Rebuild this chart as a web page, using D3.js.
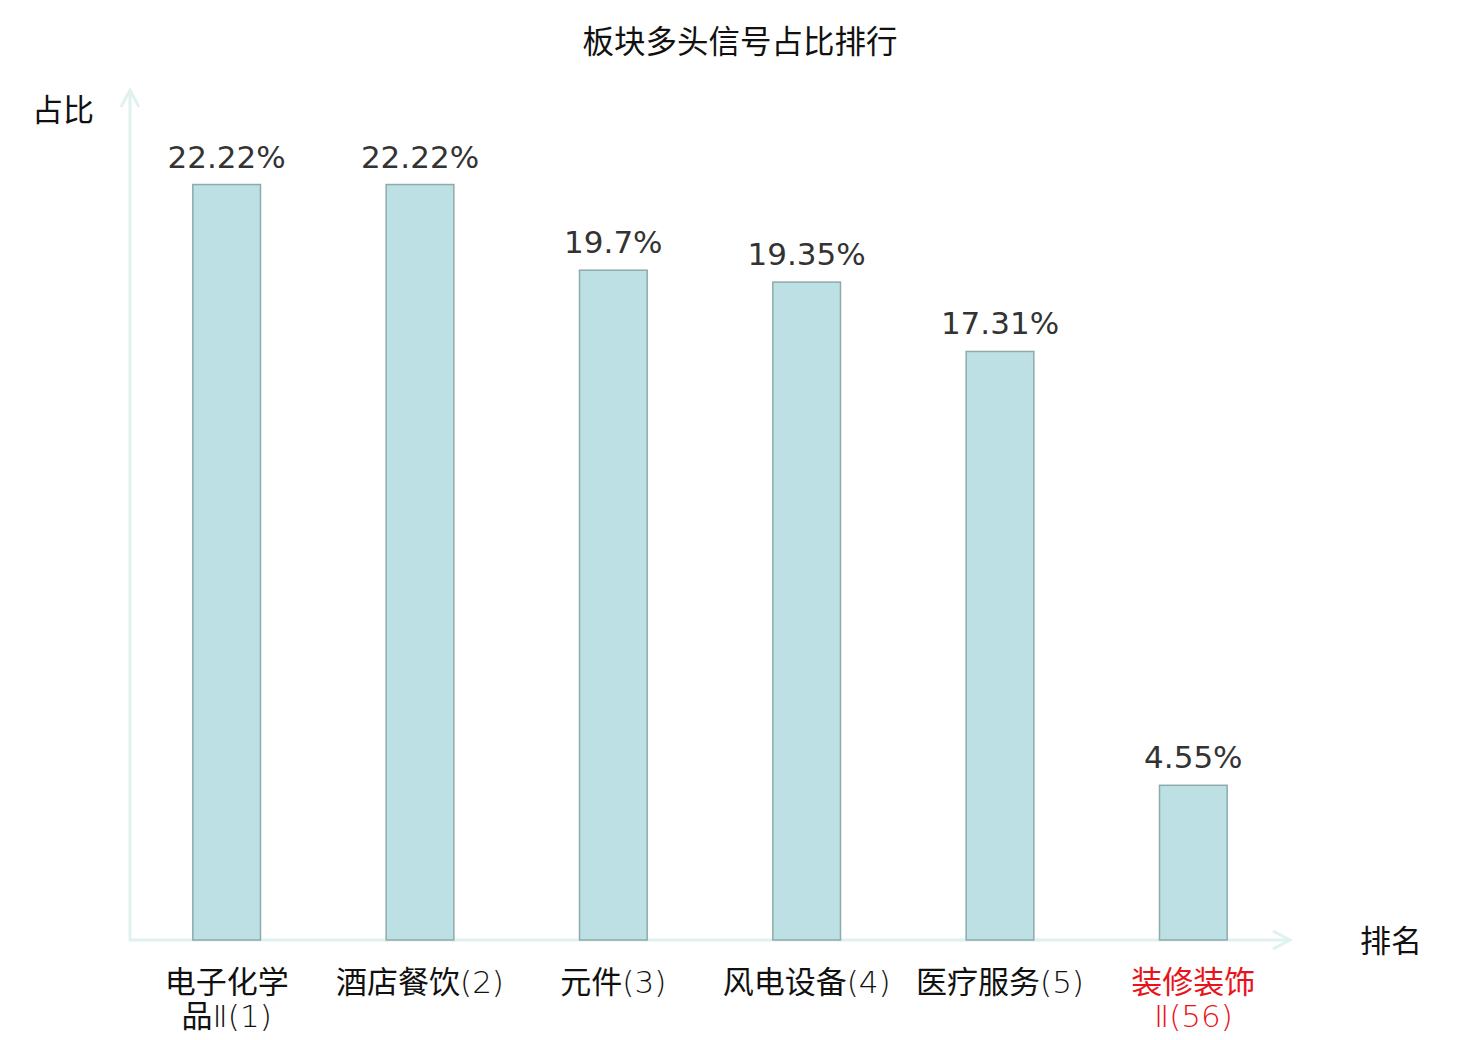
<!DOCTYPE html>
<html>
<head>
<meta charset="utf-8">
<script src="https://cdn.jsdelivr.net/npm/d3@7"></script>
<style>
  body { margin: 0; background: #fff; }
  text { font-family: "DejaVu Sans", "Noto Sans CJK SC", sans-serif; }
</style>
</head>
<body>
<div id="chart"></div>
<script>
// data
let names = ['电子化学品Ⅱ', '酒店餐饮', '元件', '风电设备', '医疗服务', '装修装饰Ⅱ']
let ranks = [1, 2, 3, 4, 5, 56]
let shares = [22.22, 22.22, 19.7, 19.35, 17.31, 4.55]
let highlight = [false, false, false, false, false, true]

let width = 1480
let height = 1040

let svg = d3
  .select('#chart')
  .append('svg')
  .attr('width', width)
  .attr('height', height)

let x0 = 130
let x1 = 1290
let yBase = 940

let xScale = d3
  .scaleBand()
  .domain(names)
  .range([x0, x1])
  .paddingInner(0.65)
  .paddingOuter(0.325)

let yScale = d3.scaleLinear().domain([0, 25]).range([yBase, 90])

// title
svg
  .append('text')
  .attr('x', 740)
  .attr('y', 53)
  .attr('text-anchor', 'middle')
  .attr('font-size', 31.5)
  .attr('fill', '#111')
  .text('板块多头信号占比排行')

// axes
let axisColor = '#dff2ef'
svg
  .append('line')
  .attr('x1', x0)
  .attr('x2', x0)
  .attr('y1', yBase + 1.5)
  .attr('y2', yScale(25))
  .attr('stroke', axisColor)
  .attr('stroke-width', 3)
svg
  .append('path')
  .attr('d', `M${x0 - 9},${yScale(25) + 17}L${x0},${yScale(25)}L${x0 + 9},${yScale(25) + 17}`)
  .attr('stroke', axisColor)
  .attr('stroke-width', 3)
  .attr('fill', 'none')

svg
  .append('line')
  .attr('x1', x0)
  .attr('x2', x1)
  .attr('y1', yBase)
  .attr('y2', yBase)
  .attr('stroke', axisColor)
  .attr('stroke-width', 3)
svg
  .append('path')
  .attr('d', `M${x1 - 17},${yBase - 9}L${x1},${yBase}L${x1 - 17},${yBase + 9}`)
  .attr('stroke', axisColor)
  .attr('stroke-width', 3)
  .attr('fill', 'none')

svg
  .append('text')
  .attr('x', 63)
  .attr('y', 121)
  .attr('text-anchor', 'middle')
  .attr('font-size', 31)
  .attr('fill', '#111')
  .text('占比')

svg
  .append('text')
  .attr('x', 1391)
  .attr('y', 952)
  .attr('text-anchor', 'middle')
  .attr('font-size', 31)
  .attr('fill', '#111')
  .text('排名')

// bars
svg
  .selectAll('.bar')
  .data(names)
  .enter()
  .append('rect')
  .attr('class', 'bar')
  .attr('x', d => xScale(d))
  .attr('width', xScale.bandwidth())
  .attr('y', (d, i) => yScale(shares[i]))
  .attr('height', (d, i) => yBase - yScale(shares[i]))
  .attr('fill', '#bce0e3')
  .attr('stroke', '#8eaaab')
  .attr('stroke-width', 1.5)

// value labels
svg
  .selectAll('.value')
  .data(names)
  .enter()
  .append('text')
  .attr('class', 'value')
  .attr('x', d => xScale(d) + xScale.bandwidth() / 2)
  .attr('y', (d, i) => yScale(shares[i]) - 17)
  .attr('text-anchor', 'middle')
  .attr('font-size', 31)
  .attr('fill', '#333')
  .text((d, i) => shares[i] + '%')

// category labels, long names wrap after 4 chars
// chinese runs regular, latin runs light
let cjk = /[\u4e00-\u9fff]+|[^\u4e00-\u9fff]+/g
svg
  .selectAll('.cat')
  .data(names)
  .enter()
  .append('text')
  .attr('class', 'cat')
  .attr('text-anchor', 'middle')
  .attr('font-size', 31)
  .attr('fill', (d, i) => (highlight[i] ? '#e8141b' : '#111'))
  .each(function(d, i) {
    let full = d + '(' + ranks[i] + ')'
    let lines = d.length > 4 ? [d.slice(0, 4), full.slice(4)] : [full]
    let cx = xScale(d) + xScale.bandwidth() / 2
    lines.forEach((l, k) => {
      l.match(cjk).forEach((part, j) => {
        let t = d3
          .select(this)
          .append('tspan')
          .attr('font-weight', /[\u4e00-\u9fff]/.test(part) ? 400 : 200)
          .text(part)
        if (j === 0) t.attr('x', cx).attr('y', 993 + k * 34)
      })
    })
  })
</script>
</body>
</html>
